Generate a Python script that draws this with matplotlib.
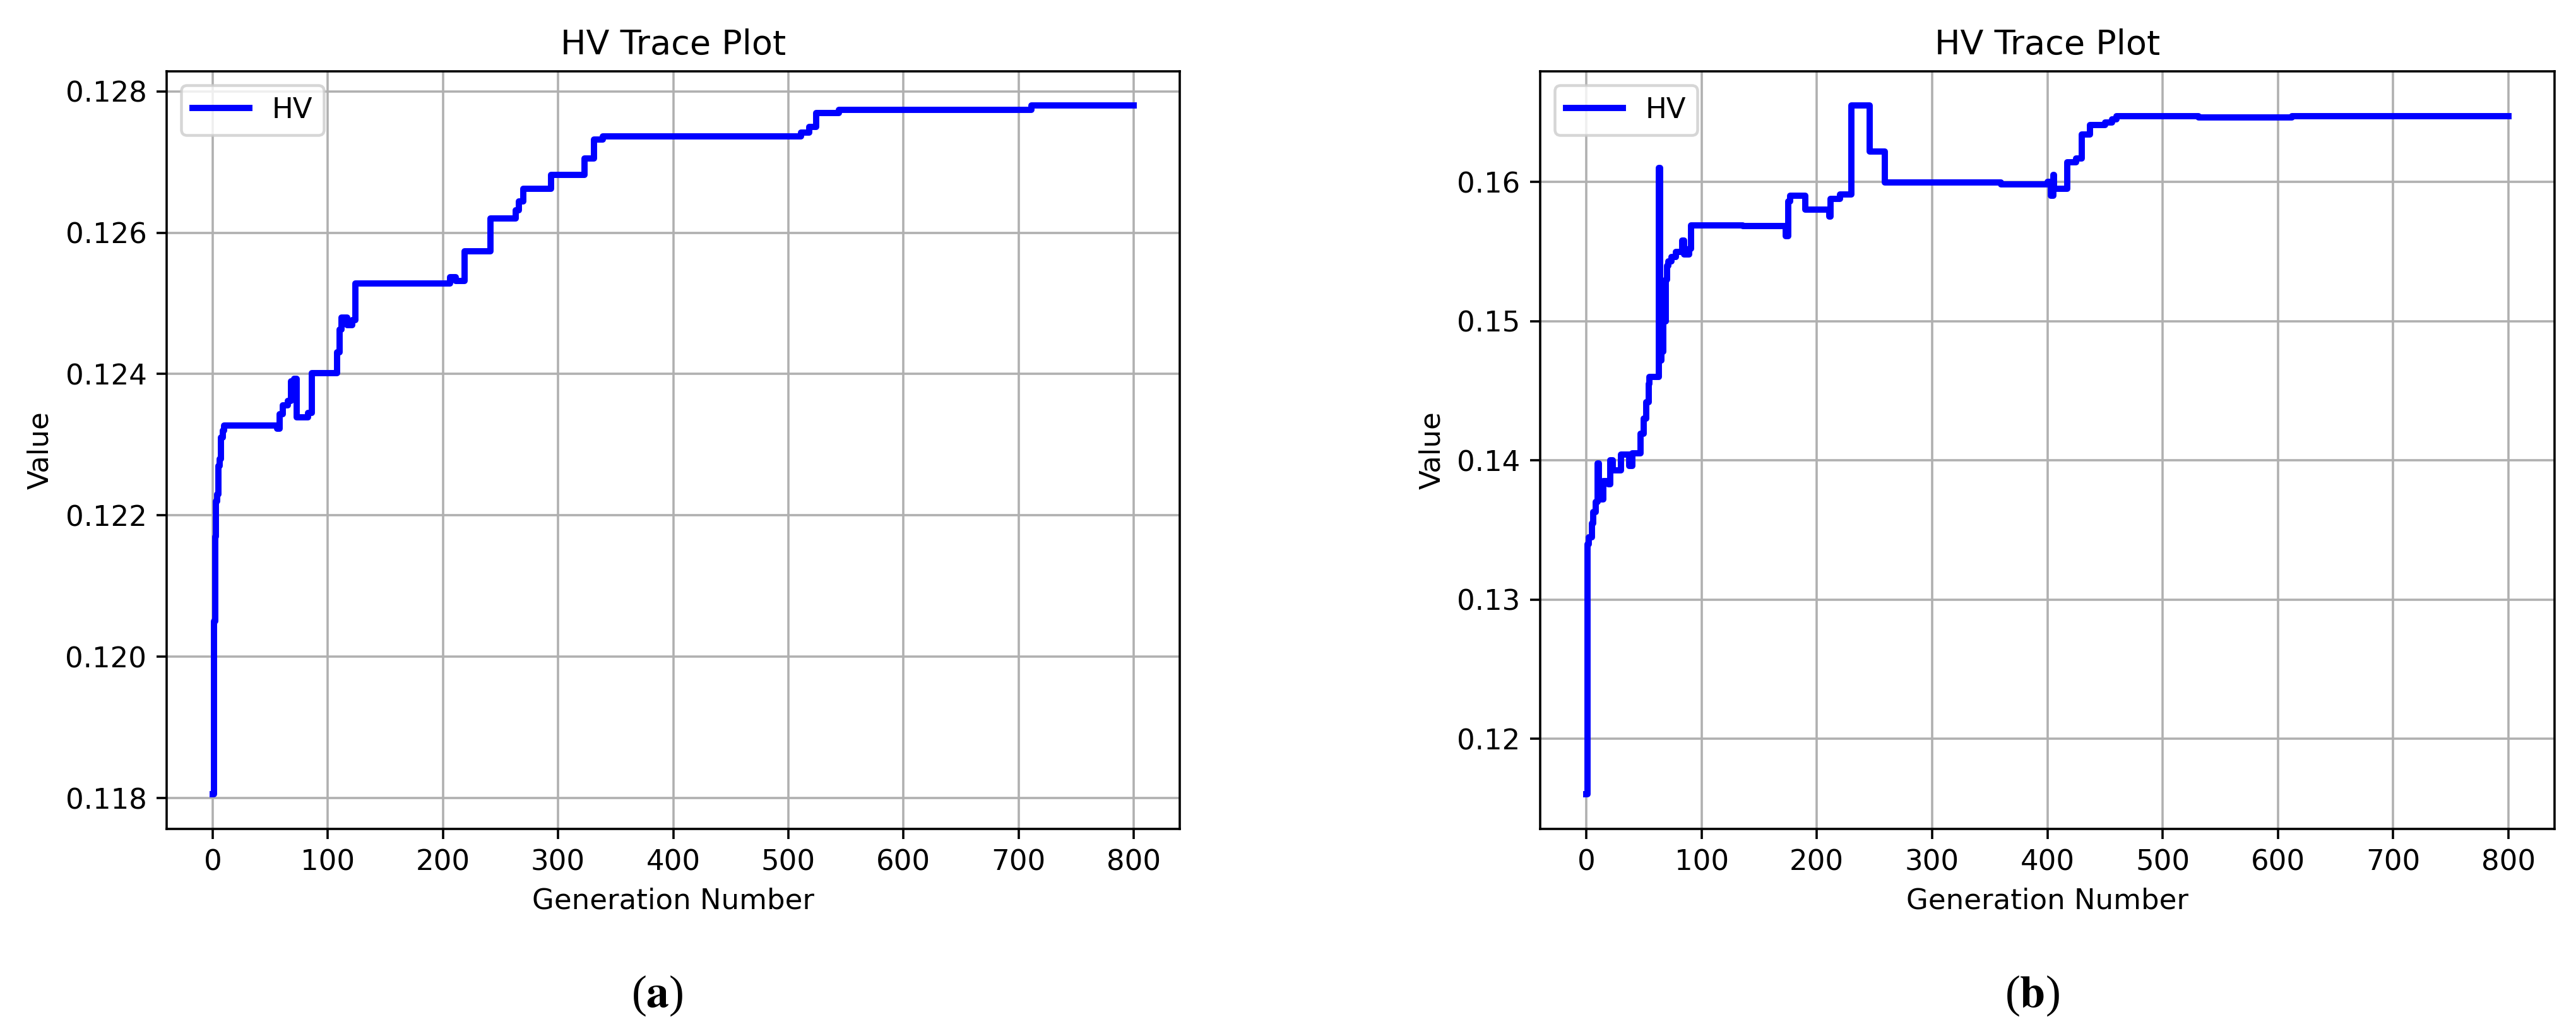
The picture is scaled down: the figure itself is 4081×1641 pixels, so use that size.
import matplotlib
matplotlib.use("Agg")
import matplotlib.pyplot as plt

# ---- data: generations where the HV trace changes value, and the new value ----
gen_a = [0, 1, 2, 3, 4, 5, 6, 7, 9, 10, 56, 58, 61, 65, 68, 71, 73, 83, 86,
         108, 110, 112, 117, 121, 124, 206, 211, 219, 241, 263, 266, 270, 294,
         323, 331, 339, 511, 518, 524, 544, 711, 800]
hv_a = [0.11805, 0.1205, 0.1217, 0.1222, 0.1223, 0.1227, 0.1228, 0.1231, 0.1232,
        0.12327, 0.12323, 0.12343, 0.12356, 0.12362, 0.12390, 0.12393, 0.12339,
        0.12345, 0.12401, 0.12431, 0.12463, 0.12480, 0.12469, 0.12476, 0.12528,
        0.12537, 0.12532, 0.12574, 0.12620, 0.12632, 0.12644, 0.12662, 0.12682,
        0.12705, 0.12732, 0.12736, 0.12742, 0.12750, 0.12769, 0.12774, 0.12780,
        0.12780]

gen_b = [0, 1, 2, 5, 6, 8, 10, 11, 12, 15, 19, 21, 23, 30, 37, 40, 47, 50, 52,
         54, 55, 63, 64, 65, 66, 67, 68, 69, 70, 71, 74, 78, 83, 85, 89, 91, 136,
         173, 175, 177, 190, 211, 212, 220, 230, 246, 259, 360, 400, 403, 405,
         406, 417, 425, 430, 437, 450, 456, 460, 531, 612, 800]
hv_b = [0.1160, 0.1340, 0.1345, 0.1355, 0.1363, 0.1370, 0.1398, 0.1380, 0.1372,
        0.1385, 0.1383, 0.1400, 0.1393, 0.1404, 0.1396, 0.1405, 0.1419, 0.1430,
        0.1442, 0.1455, 0.1460, 0.1610, 0.1472, 0.1505, 0.1478, 0.1515, 0.1500,
        0.1530, 0.1540, 0.1543, 0.1546, 0.1550, 0.1558, 0.1548, 0.1552, 0.1569,
        0.15682, 0.1561, 0.1586, 0.1590, 0.1580, 0.1575, 0.1588, 0.1591, 0.1655,
        0.1622, 0.15995, 0.15985, 0.1600, 0.1590, 0.1605, 0.1595, 0.1614, 0.1617,
        0.1634, 0.1641, 0.1643, 0.1645, 0.16471, 0.16462, 0.16471, 0.16471]

panels = [("a", gen_a, hv_a), ("b", gen_b, hv_b)]
title = "HV Trace Plot"
xlabel = "Generation Number"
ylabel = "Value"
series_label = "HV"

plt.rcParams["mathtext.fontset"] = "stix"

W, H, DPI = 4081, 1641, 324
fig = plt.figure(figsize=(W / DPI, H / DPI), dpi=DPI)

axes_px = [(264, 112.5, 1869, 1313), (2440, 112.5, 4047, 1313)]
caption_x = [1041, 3219]

for (tag, g, v), (x0, y0, x1, y1), cx in zip(panels, axes_px, caption_x):
    ax = fig.add_axes([x0 / W, 1 - y1 / H, (x1 - x0) / W, (y1 - y0) / H])
    ax.plot(g, v, color="blue", lw=2.2, drawstyle="steps-post", label=series_label)
    ax.set_xlim(-40, 840)
    ax.set_title(title, fontsize=12)
    ax.set_xlabel(xlabel)
    ax.set_ylabel(ylabel)
    ax.grid(True)
    ax.legend(loc="upper left")
    fig.text(cx / W, 1 - 1577 / H, r"($\mathbf{%s}$)" % tag, ha="center", va="center",
             fontsize=16, family="Liberation Serif")

fig.savefig("out.png", dpi=DPI, facecolor="white")
